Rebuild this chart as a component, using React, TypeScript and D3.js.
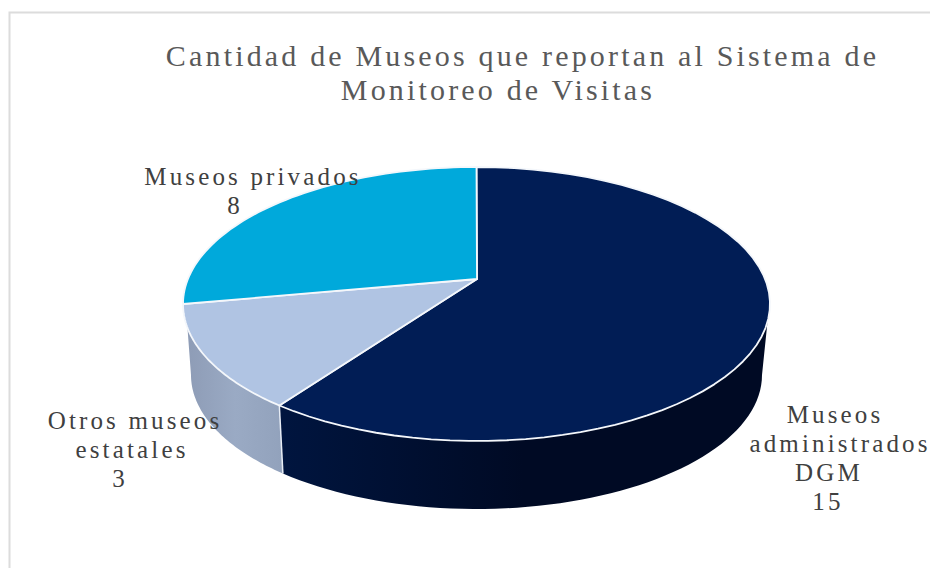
import React from 'react';
import * as d3 from 'd3';

const categories = ['Museos administrados DGM', 'Otros museos estatales', 'Museos privados'];
const values = [15, 3, 8];
const topColors = ['#011d55', '#b0c4e3', '#00a9db'];
const wallStops = [
  ['#00153f', '#000a24', '#000a24'],
  ['#8e9cb6', '#9aaac4', '#92a2bc'],
];

const titleLines = ['Cantidad de Museos que reportan al Sistema de', 'Monitoreo de Visitas'];
const titleX = [522.5, 498];
const labelLines = [
  ['Museos', 'administrados', 'DGM', '15'],
  ['Otros museos', 'estatales', '3'],
  ['Museos privados', '8'],
];
const labelX = [
  [835, 840, 829, 828],
  [135, 132, 120],
  [253, 235],
];
const labelY = [423, 429, 185];

const W = 930;
const H = 568;
const apex = { x: 477, y: 279 };
const topE = { cx: 476.5, cy: 304, rx: 293.5, ry: 137 };
const botE = { cx: 476.5, cy: 375, rx: 285.5, ry: 134 };
const deg = Math.PI / 180;

const pieGen = d3.pie<number>().sort(null);
const slices = pieGen(values);

// the tilted view bunches the angles, so pie angle -> angle seen on the ellipse
const viewAngle = d3
  .scaleLinear()
  .domain([0, slices[0].endAngle, slices[1].endAngle, 2 * Math.PI])
  .range([0, 222.2 * deg, 270 * deg, 360 * deg]);

// where the wall is visible on the top rim, and which point of the lower rim it meets
const rimEdge = viewAngle(slices[0].endAngle);
const wallMap = d3
  .scaleLinear()
  .domain([97.5 * deg, rimEdge, 260 * deg])
  .range([90 * deg, 222.7 * deg, 270 * deg]);

const onEllipse = (e: typeof topE, a: number): [number, number] => [
  e.cx + e.rx * Math.sin(a),
  e.cy - e.ry * Math.cos(a),
];

const line = d3.line();
const sample = (a0: number, a1: number) => d3.range(0, 61).map((i) => a0 + ((a1 - a0) * i) / 60);

const topPath = (a0: number, a1: number) =>
  line([[apex.x, apex.y], ...sample(a0, a1).map((a) => onEllipse(topE, a))]) + 'Z';

const wallPath = (a0: number, a1: number) =>
  line([
    ...sample(a0, a1).map((a) => onEllipse(topE, a)),
    ...sample(a1, a0).map((a) => onEllipse(botE, wallMap(a))),
  ]) + 'Z';

const walls = [
  { a0: wallMap.domain()[0], a1: rimEdge },
  { a0: rimEdge, a1: wallMap.domain()[2] },
];

export default function App() {
  return (
    <svg
      width={W}
      height={H}
      viewBox={`0 0 ${W} ${H}`}
      style={{ position: 'absolute', left: 0, top: 0, background: '#fff' }}
      fontFamily="'Liberation Serif', serif"
    >
      <defs>
        {wallStops.map((stops, i) => (
          <linearGradient key={i} id={`wall${i}`} x1="0" x2="1" y1="0" y2="0">
            {stops.map((c, j) => (
              <stop key={j} offset={j / (stops.length - 1)} stopColor={c} />
            ))}
          </linearGradient>
        ))}
      </defs>

      <rect x={9.5} y={12.5} width={W + 40} height={H + 40} fill="#fff" stroke="#dcdcdc" strokeWidth={2} />

      {walls.map((w, i) => (
        <path key={i} d={wallPath(w.a0, w.a1)} fill={`url(#wall${i})`} />
      ))}
      <path
        d={line([onEllipse(topE, rimEdge), onEllipse(botE, wallMap(rimEdge))]) as string}
        stroke="#e8edf5"
        strokeWidth={1.5}
        fill="none"
      />

      {slices.map((s, i) => (
        <path
          key={categories[i]}
          d={topPath(viewAngle(s.startAngle), viewAngle(s.endAngle))}
          fill={topColors[i]}
          stroke="#f4f7fb"
          strokeWidth={1.8}
          strokeLinejoin="round"
        />
      ))}

      <text textAnchor="middle" fontSize={30} letterSpacing={3.17} fill="#595959">
        {titleLines.map((t, i) => (
          <tspan key={t} x={titleX[i]} y={66 + i * 34}>
            {t}
          </tspan>
        ))}
      </text>

      {labelLines.map((lines, i) => (
        <text key={i} textAnchor="middle" fontSize={25} letterSpacing={3.15} fill="#404040">
          {lines.map((t, j) => (
            <tspan key={t} x={labelX[i][j]} y={labelY[i] + j * 29}>
              {t}
            </tspan>
          ))}
        </text>
      ))}
    </svg>
  );
}
